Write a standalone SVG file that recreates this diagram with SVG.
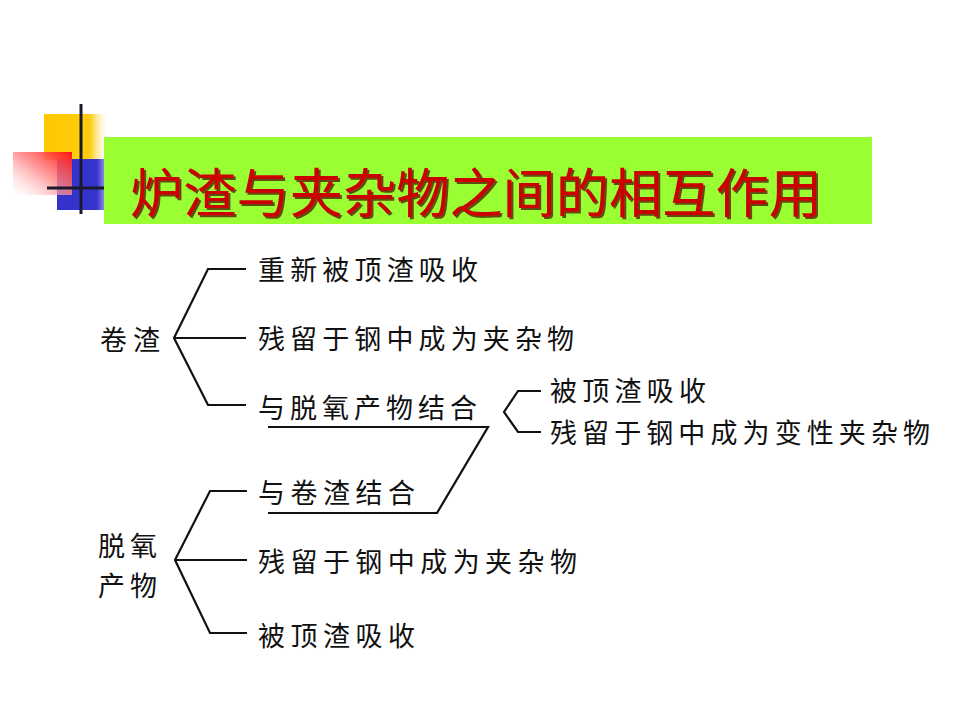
<svg xmlns="http://www.w3.org/2000/svg" width="960" height="720" viewBox="0 0 960 720">
<defs>
<linearGradient id="gy" x1="0" y1="0" x2="1" y2="0">
<stop offset="0" stop-color="#FFC800"/><stop offset="0.7" stop-color="#FFCC11"/><stop offset="1" stop-color="#FFFFFF" stop-opacity="0"/>
</linearGradient>
<linearGradient id="gb" x1="0" y1="0" x2="1" y2="0">
<stop offset="0" stop-color="#3333CC"/><stop offset="0.8" stop-color="#3535CC"/><stop offset="1" stop-color="#AAAAEE"/>
</linearGradient>
<linearGradient id="gr" x1="1" y1="0" x2="0" y2="1">
<stop offset="0" stop-color="#FF1010"/><stop offset="0.5" stop-color="#FF8888" stop-opacity="0.8"/><stop offset="1" stop-color="#FFFFFF" stop-opacity="0.3"/>
</linearGradient>
<filter id="sh" x="-5%" y="-20%" width="110%" height="140%">
<feDropShadow dx="2" dy="2" stdDeviation="0.6" flood-color="#4A0000" flood-opacity="0.7"/>
</filter>
</defs>
<style>
.t{font-family:"Noto Sans CJK SC","Liberation Sans",sans-serif;font-size:27px;fill:#111;dominant-baseline:central}
.ln{fill:none;stroke:#111;stroke-width:2.2;stroke-linejoin:miter}
.title{font-family:"Noto Sans CJK SC","Liberation Sans",sans-serif;font-size:53px;font-weight:400;dominant-baseline:central;fill:#CC0000;filter:url(#sh)}
</style>
<rect width="960" height="720" fill="#FFFFFF"/>
<g id="logo">
<rect x="44" y="114" width="66" height="46" fill="url(#gy)"/>
<rect x="57" y="159" width="50" height="51" fill="url(#gb)"/>
<rect x="13" y="152" width="59" height="43" fill="url(#gr)"/>
<line x1="81" y1="104" x2="81" y2="214" stroke="#1A1A2A" stroke-width="3"/>
<line x1="47" y1="188" x2="106" y2="188" stroke="#1A1A2A" stroke-width="3"/>
</g>
<g id="title">
<rect x="104" y="137" width="768" height="87" fill="#99FF33"/>
<text class="title" x="130" y="190" textLength="692" lengthAdjust="spacingAndGlyphs">炉渣与夹杂物之间的相互作用</text>
</g>
<g id="connectors">
<polyline class="ln" points="246,269 208,269 174,338 208,405 246,405"/>
<line class="ln" x1="174" y1="338" x2="246" y2="338"/>
<polyline class="ln" points="268,427 488,427 437,513 268,513"/>
<polyline class="ln" points="541,391 518,391 504,412 518,432 541,432"/>
<polyline class="ln" points="247,491 210,491 175,560 210,633 247,633"/>
<line class="ln" x1="175" y1="560" x2="247" y2="560"/>
</g>
<g id="n-juanzha"><text class="t" x="100" y="338" textLength="60">卷渣</text></g>
<g id="n-a1"><text class="t" x="258" y="268" textLength="220">重新被顶渣吸收</text></g>
<g id="n-a2"><text class="t" x="258" y="337" textLength="316">残留于钢中成为夹杂物</text></g>
<g id="n-a3"><text class="t" x="258" y="406" textLength="219">与脱氧产物结合</text></g>
<g id="n-c1"><text class="t" x="550" y="389" textLength="156">被顶渣吸收</text></g>
<g id="n-c2"><text class="t" x="550" y="431" textLength="380">残留于钢中成为变性夹杂物</text></g>
<g id="n-tuoyang"><text class="t" x="98" y="544" textLength="59">脱氧</text><text class="t" x="98" y="584" textLength="59">产物</text></g>
<g id="n-b1"><text class="t" x="258" y="491" textLength="157">与卷渣结合</text></g>
<g id="n-b2"><text class="t" x="258" y="560" textLength="319">残留于钢中成为夹杂物</text></g>
<g id="n-b3"><text class="t" x="258" y="634" textLength="157">被顶渣吸收</text></g>
</svg>
